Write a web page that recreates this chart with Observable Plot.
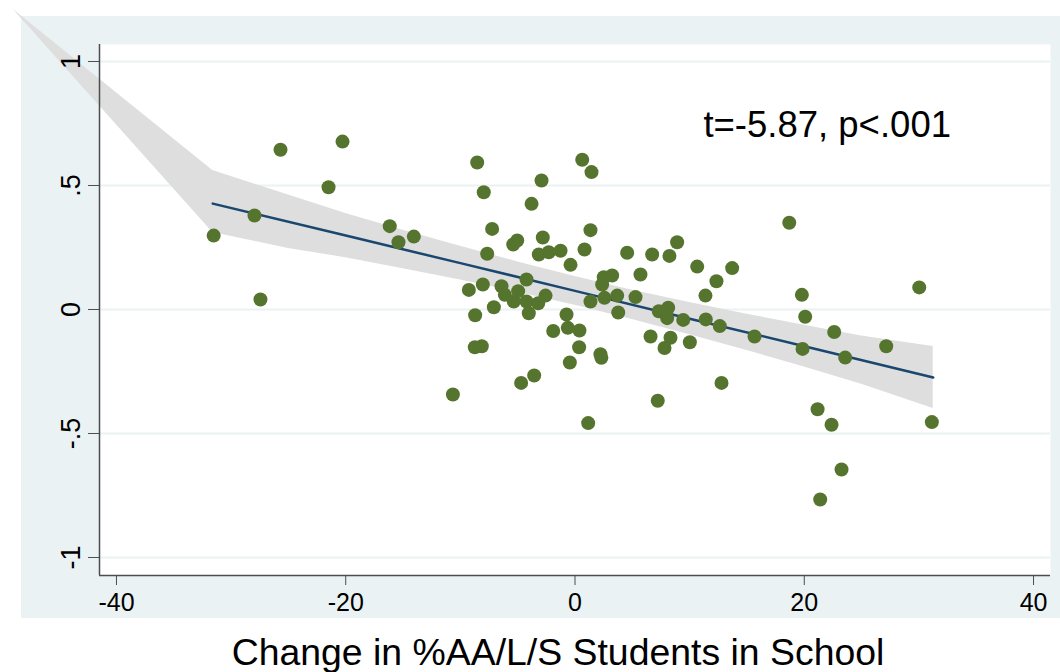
<!DOCTYPE html>
<html>
<head>
<meta charset="utf-8">
<script src="https://cdn.jsdelivr.net/npm/d3@7"></script>
<script src="https://cdn.jsdelivr.net/npm/@observablehq/plot@0.6"></script>
<style>
html, body { margin: 0; padding: 0; background: #ffffff; }
#wrap { position: relative; width: 1060px; height: 672px; overflow: hidden; }
#bg { position: absolute; left: 21px; top: 16px; width: 1039px; height: 602px; background: #EAF2F3; }
#chart { position: absolute; left: 0; top: 0; }
</style>
</head>
<body>
<div id="wrap"><div id="bg"></div><div id="chart"></div></div>
<script>
// Scatter data: change in %AA/L/S students (x) vs outcome (y)
const pointX = [-31.52, -27.96, -27.44, -25.69, -21.5, -20.28, -16.16, -15.4, -14.06, -10.65,
  -9.26, -8.71, -8.74, -8.13, -8.53, -8.04, -7.96, -7.66, -7.23, -7.08,
  -6.41, -6.12, -5.39, -5.04, -5.34, -4.96, -4.7, -4.23, -4.23, -4.03,
  -3.79, -3.56, -3.21, -3.16, -2.92, -2.81, -2.57, -2.29, -1.9, -1.26,
  -0.74, -0.63, -0.45, -0.39, 0.36, 0.39, 0.63, 0.83, 1.15, 1.35,
  1.35, 1.44, 2.22, 2.3, 2.37, 2.51, 2.57, 3.24, 3.68, 3.77,
  4.55, 5.28, 5.71, 6.59, 6.73, 7.22, 7.31, 7.81, 8.04, 8.13,
  8.24, 8.33, 8.91, 9.44, 10.02, 10.66, 11.38, 11.41, 12.34, 12.63,
  12.78, 13.71, 15.66, 18.69, 19.79, 19.85, 20.08, 21.16, 21.39, 22.38,
  22.61, 23.25, 23.57, 27.15, 30.03, 31.13];
const pointY = [0.298, 0.379, 0.040, 0.644, 0.493, 0.677, 0.336, 0.271, 0.294, -0.343,
  0.079, -0.023, -0.152, -0.148, 0.593, 0.101, 0.473, 0.225, 0.325, 0.009,
  0.094, 0.059, 0.262, 0.278, 0.032, 0.074, -0.296, 0.121, 0.032, -0.015,
  0.426, -0.266, 0.025, 0.222, 0.520, 0.290, 0.056, 0.231, -0.087, 0.237,
  -0.020, -0.074, -0.214, 0.180, -0.152, -0.085, 0.604, 0.242, -0.458, 0.320,
  0.032, 0.554, -0.180, -0.195, 0.101, 0.130, 0.047, 0.137, 0.056, -0.012,
  0.229, 0.050, 0.141, -0.109, 0.222, -0.368, -0.007, -0.155, -0.035, 0.007,
  0.216, -0.114, 0.271, -0.042, -0.132, 0.173, 0.056, -0.040, 0.114, -0.067,
  -0.296, 0.167, -0.109, 0.350, 0.059, -0.159, -0.029, -0.402, -0.766, -0.465,
  -0.091, -0.645, -0.194, -0.148, 0.089, -0.454];

// Confidence band of the linear fit (first vertex is the stray polygon point)
const bandX  = [-49, -31.6, -25, -20, -15, -10, -5, 0, 5, 10, 15, 20, 25, 31.25];
const bandLo = [1.21, 0.31, 0.246, 0.209, 0.164, 0.119, 0.070, 0.017, -0.040, -0.102, -0.165, -0.232, -0.301, -0.399];
const bandHi = [1.21, 0.56, 0.462, 0.387, 0.320, 0.255, 0.192, 0.133, 0.078, 0.028, -0.019, -0.064, -0.107, -0.149];

// Fitted line
const fitX = [-31.6, -20, -10, 0, 10, 20, 31.25];
const fitY = [0.427, 0.298, 0.187, 0.075, -0.037, -0.148, -0.274];

const xTicks = [-40, -20, 0, 20, 40];
const yTicks = [-1, -0.5, 0, 0.5, 1];
const yTickLabels = ["-1", "-.5", "0", ".5", "1"];
const annotation = "t=-5.87, p<.001";
const xTitle = "Change in %AA/L/S Students in School";

const xDomain = [-41.48, 41.48];
const yDomain = [-1.0726, 1.0685];

const points = pointX.map((x, i) => ({x, y: pointY[i]}));
const band = bandX.map((x, i) => ({x, lo: bandLo[i], hi: bandHi[i]}));
const fit = fitX.map((x, i) => ({x, y: fitY[i]}));
const yLabelMap = new Map(yTicks.map((t, i) => [t, yTickLabels[i]]));

const font = "'Liberation Sans', Arial, Helvetica, sans-serif";
const axisColor = "#4d4d4d";

const chart = Plot.plot({
  width: 1060,
  height: 672,
  marginLeft: 99,
  marginRight: 10,
  marginTop: 44,
  marginBottom: 97,
  x: {domain: xDomain},
  y: {domain: yDomain},
  style: {background: "transparent", overflow: "visible", fontFamily: font, color: "#000"},
  marks: [
    Plot.frame({fill: "white", stroke: null}),
    Plot.ruleY(yTicks, {stroke: "#EAF2F3", strokeWidth: 2}),
    Plot.areaY(band, {x: "x", y1: "lo", y2: "hi", fill: "#DEDEDE", clip: false}),
    Plot.line(fit, {x: "x", y: "y", stroke: "#1A476F", strokeWidth: 2.5}),
    Plot.dot(points, {x: "x", y: "y", r: 7, fill: "#55752F", stroke: "none"}),
    Plot.ruleY([yDomain[0]], {stroke: axisColor, strokeWidth: 1.5}),
    Plot.ruleX([xDomain[0]], {stroke: axisColor, strokeWidth: 1.5}),
    Plot.axisX({ticks: xTicks, tickSize: 10, tickPadding: 8, fontSize: 25, label: null,
      stroke: axisColor, fill: "#000", tickFormat: d => String(d)}),
    Plot.axisY({ticks: yTicks, tickSize: 11, tickPadding: 9, fontSize: 27, label: null,
      tickRotate: -90, stroke: axisColor, fill: "#000", tickFormat: d => yLabelMap.get(d)}),
    Plot.text([annotation], {x: 11.2, y: 0.742, text: d => d, textAnchor: "start",
      lineAnchor: "middle", fontSize: 36.5, fill: "#000"}),
    Plot.text([xTitle], {frameAnchor: "bottom", text: d => d, dy: 78, dx: -17,
      lineAnchor: "middle", fontSize: 37.4, fill: "#000"})
  ]
});
document.getElementById("chart").appendChild(chart);
</script>
</body>
</html>
